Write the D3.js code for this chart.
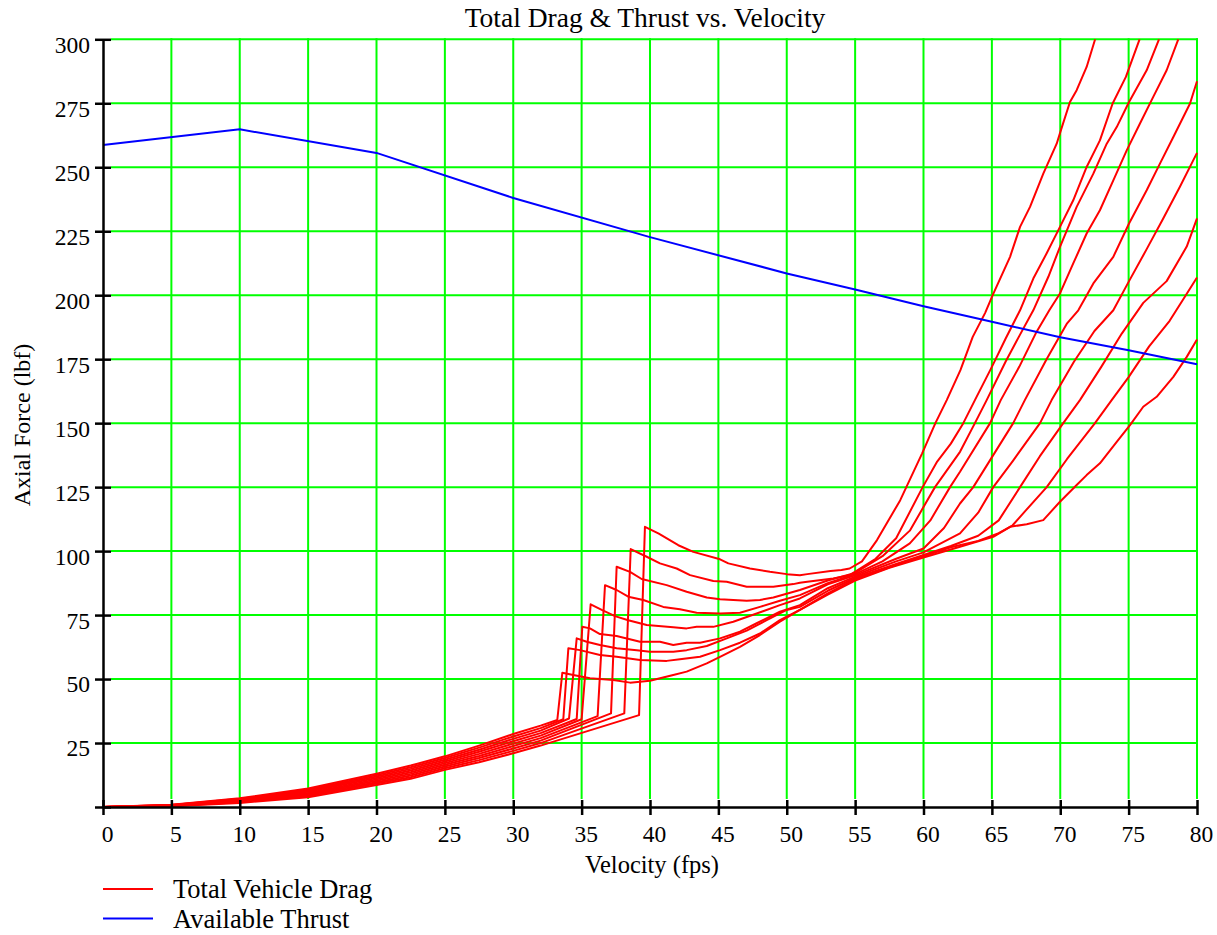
<!DOCTYPE html>
<html>
<head>
<meta charset="utf-8">
<script src="https://cdn.jsdelivr.net/npm/d3@7"></script>
<style>
  body { margin: 0; background: #fff; }
  text { font-family: "Liberation Serif", "Times New Roman", serif; fill: #000; }
</style>
</head>
<body>
<svg id="chart" width="1217" height="935"></svg>
<script>
// Axis ticks
const velocityTicks = [0, 5, 10, 15, 20, 25, 30, 35, 40, 45, 50, 55, 60, 65, 70, 75, 80];
const forceTicks = [0, 25, 50, 75, 100, 125, 150, 175, 200, 225, 250, 275, 300];

// Available thrust (lbf) against velocity (fps)
const thrustVelocity = [0, 10, 20, 30, 40, 50, 55, 60, 65, 70, 75, 80];
const thrustForce = [258.7, 264.8, 255.6, 238, 222.7, 208.5, 202.2, 195.7, 189.6, 183.6, 178.5, 173];

// Total vehicle drag runs, [velocity, force] pairs
const drag0 = [[0,0],[5,0.9],[10,3.4],[15,7.2],[20,13.0],[22.5,16.2],[25,19.8],[27.5,24.0],[30,28.5],[32,31.8],[33.22,34.0],
  [33.59,52.5],[34.39,51.6],[35.61,50.3],[37.32,49.6],[38.54,48.6],[40.0,49.3],[41.7,51.6],[42.68,52.9],[44.15,56.1],[45.12,58.7],
  [46.58,62.6],[48.04,67.2],[49.5,72.4],[50.96,77.0],[53,83],[55,88.5],[57.5,93.5],[60,97.5],[62.67,101.7],[65.1,105.6],
  [66.33,109.5],[67.55,110.5],[68.76,112.1],[69.98,119.3],[71.2,125.8],[71.93,129.7],[72.9,134.3],[74.13,142.7],[75.1,149.2],
  [76.07,156.4],[77.05,160.3],[78.27,168.1],[79.25,175.9],[80,182.7]];
const drag1 = [[0,0],[5,0.8],[10,3.18],[15,6.78],[20,12.45],[22.5,15.55],[25,19.14],[27.5,23.19],[30,27.56],[32,30.83],[33.66,34.3],
  [34.03,62.0],[34.88,61.3],[36.34,59.4],[37.56,58.7],[39.27,57.4],[41.22,57.1],[42.19,57.7],[43.66,58.7],[45.12,61.3],[46.58,64.2],
  [48.04,67.8],[49.5,73.0],[50.96,77.0],[53,83.5],[55,89],[58,94.5],[60,98],[62,101.5],[64,104],[65.5,107],[66.5,110],[67.5,116],
  [69.01,125],[70.5,136],[72.54,150],[73.76,159],[75,168],[76.5,180],[78,190],[78.95,198],[80,206.9]];
const drag2 = [[0,0],[5,0.75],[10,2.95],[15,6.35],[20,11.9],[22.5,14.9],[25,18.48],[27.5,22.38],[30,26.63],[32,29.85],[34.08,34.6],
  [34.64,65.9],[35.37,64.6],[36.34,63.3],[37.56,62.0],[39.03,61.3],[40.0,60.7],[41.7,60.7],[42.68,61.3],[44.15,62.9],[45.61,65.9],
  [47.07,68.9],[48.53,73.0],[50.0,77.0],[50.96,78.2],[53,84.5],[55,89.5],[58,95],[60,98.5],[62,102],[64,106],[65.5,112],[67.06,125],
  [68.5,137],[70.22,150],[71.44,159],[73,172],[74.5,185],[76.07,197],[77.78,205.5],[79.25,219],[80,230]];
const drag3 = [[0,0],[5,0.7],[10,2.73],[15,5.93],[20,11.35],[22.5,14.25],[25,17.81],[27.5,21.56],[30,25.69],[32,28.88],[34.64,34.4],
  [35.05,70.4],[35.61,69.8],[36.34,67.6],[37.56,66.8],[39.27,64.6],[40.73,64.6],[41.7,63.3],[42.68,64.2],[43.66,64.2],[45.12,65.9],
  [46.58,68.5],[47.8,71.8],[49.5,76.3],[50.96,78.9],[53,85.5],[55,90],[58,96],[60,99.5],[62.67,106.9],[64,115],[65.1,125],
  [66.5,135],[68.52,150],[69.37,159],[71,174],[72.5,186],[73.88,194.1],[75.03,205.5],[76.32,218],[77.53,230],[78.76,242.5],[80,255.6]];
const drag4 = [[0,0],[5,0.6],[10,2.5],[15,5.5],[20,10.8],[22.5,13.6],[25,17.15],[27.5,20.75],[30,24.75],[32,27.9],[35.0,34.3],
  [35.66,79.2],[36.47,77.0],[37.44,74.6],[38.41,73.0],[39.76,71.1],[41.7,70.2],[42.68,69.8],[43.41,70.4],[44.63,70.4],[46.09,72.4],
  [47.8,75.6],[49.5,78.9],[50.96,81.5],[53,87],[55,90.5],[58,97],[60,101],[61.5,109],[62.67,118.6],[63.64,125],[66.56,150],
  [67.41,159],[69,175],[70.5,189],[71.32,194.1],[72.42,204.6],[73.88,215],[75.03,228],[76.32,241],[77.29,251.4],[78.27,261.8],
  [79.49,274.9],[80,283.6]];
const drag5 = [[0,0],[5,0.5],[10,2.28],[15,5.08],[20,10.25],[22.5,12.95],[25,16.49],[27.5,19.94],[30,23.81],[32,26.93],[36.17,35.5],
  [36.71,86.7],[37.56,84.8],[38.41,82.2],[39.51,80.9],[40.97,78.2],[42.19,77.3],[43.41,75.9],[45.12,75.6],[46.58,75.9],[48.04,78.2],
  [49.5,80.6],[50.96,82.8],[53,87.5],[55,91],[57,96],[59,103],[60.5,112],[61.94,125],[62.67,131],[64.87,150],[65.65,159],[67,172],
  [68.2,185],[69.2,194.1],[69.98,200.7],[70.95,212.4],[71.93,224.1],[72.9,233.2],[73.88,244.9],[74.86,256.6],[75.83,267.1],
  [76.8,277.5],[77.78,287.9],[78.63,300]];
const drag6 = [[0,0],[5,0.45],[10,2.05],[15,4.65],[20,9.7],[22.5,12.3],[25,15.83],[27.5,19.13],[30,22.88],[32,25.95],[37.15,36.6],
  [37.56,93.9],[38.54,91.9],[39.39,89.1],[41.22,86.7],[42.68,84.1],[44.15,81.9],[45.12,81.2],[47.07,80.6],[48.04,80.9],[49.02,81.9],
  [50.96,84.8],[53,88.5],[55,91.5],[57,98],[59,108],[60.84,125],[62.67,138.8],[63.76,150],[64.62,159],[66,174],[67,184],
  [68.03,194.1],[69.13,207.2],[69.98,218.9],[71.2,234.5],[72.42,247.5],[73.4,259.2],[74.13,265.7],[75.03,275.5],[76.32,287.9],
  [77.22,300]];
const drag7 = [[0,0],[5,0.4],[10,1.83],[15,4.23],[20,9.15],[22.5,11.65],[25,15.16],[27.5,18.31],[30,21.94],[32,24.98],[38.12,36.6],
  [38.59,100.8],[39.76,97.8],[40.73,95.2],[41.95,93.2],[42.93,90.6],[44.63,88.3],[45.61,88.0],[47.07,86.1],[49.02,86.1],[50.48,87.1],
  [50.96,87.6],[51.5,88],[53.4,89.3],[54.6,90.6],[56.5,97],[58,105],[59.94,125],[61,135],[62,142],[62.91,150],[63.76,159],[65,172],
  [66,183],[67.06,194.1],[68.03,206.5],[69.0,216.3],[69.98,226.7],[70.95,237.1],[71.93,250.1],[72.9,260.5],[73.83,274.9],
  [74.8,285.3],[75.8,300]];
const drag8 = [[0,0],[5,0.3],[10,1.6],[15,3.8],[20,8.6],[22.5,11.0],[25,14.5],[27.5,17.5],[30,21.0],[32,24.0],[39.2,35.9],
  [39.63,109.5],[40.61,106.9],[42.07,102.3],[43.17,99.7],[45.12,96.8],[45.73,95.2],[47.31,93.2],[48.77,91.9],[50.0,91.0],
  [50.96,90.6],[51.5,91],[53.2,92.2],[54.0,92.6],[54.6,93.2],[55.5,96],[56.6,104.3],[58.3,119.9],[59.9,138.2],[60.87,150],
  [61.7,159],[62.7,170.7],[63.6,183.7],[64.5,193],[65.1,200.5],[66.33,215],[67.06,226.7],[67.79,234.5],[68.76,247.5],
  [69.74,259.2],[70.05,264.5],[70.71,275.5],[71.2,280.1],[71.93,289.2],[72.55,300]];
const dragRuns = [drag0, drag1, drag2, drag3, drag4, drag5, drag6, drag7, drag8];

const legendLabels = ["Total Vehicle Drag", "Available Thrust"];
const seriesColors = ["#ff0000", "#0000ff"];

const svg = d3.select("#chart");
const x = d3.scaleLinear().domain([0, 80]).range([103, 1197]);
const y = d3.scaleLinear().domain([0, 300]).range([807, 39.3]);

// Green grid
const grid = svg.append("g").attr("stroke", "#00ff00").attr("stroke-width", 2);
grid.selectAll("line.v").data(velocityTicks.filter(d => d > 0)).join("line")
  .attr("class", "v")
  .attr("x1", d => x(d)).attr("x2", d => x(d))
  .attr("y1", y(300) - 1).attr("y2", y(0) - 8);
grid.selectAll("line.h").data(forceTicks.filter(d => d > 0)).join("line")
  .attr("class", "h")
  .attr("x1", x(0) + 8).attr("x2", x(80) + 1)
  .attr("y1", d => y(d)).attr("y2", d => y(d));

// Drag runs
const line = d3.line().x(d => x(d[0])).y(d => y(d[1]));
svg.append("g").selectAll("path").data(dragRuns).join("path")
  .attr("d", line)
  .attr("fill", "none").attr("stroke", seriesColors[0]).attr("stroke-width", 2)
  .attr("stroke-linejoin", "round");

// Thrust
svg.append("path")
  .datum(thrustVelocity.map((v, i) => [v, thrustForce[i]]))
  .attr("d", line)
  .attr("fill", "none").attr("stroke", seriesColors[1]).attr("stroke-width", 2);

// Axes
const xAxis = svg.append("g").attr("transform", `translate(0,${y(0)})`)
  .call(d3.axisBottom(x).tickValues(velocityTicks).tickSizeInner(8).tickSizeOuter(0).tickPadding(10).tickFormat(d3.format("d")));
const yAxis = svg.append("g").attr("transform", `translate(${x(0)},0)`)
  .call(d3.axisLeft(y).tickValues(forceTicks).tickSizeInner(8).tickSizeOuter(0).tickPadding(5)
    .tickFormat(d => d === 0 ? "" : d3.format("d")(d)));

[xAxis, yAxis].forEach(g => {
  g.select(".domain").attr("stroke", "#000").attr("stroke-width", 2.5);
  g.selectAll(".tick line").attr("stroke", "#000").attr("stroke-width", 2.5);
  g.selectAll(".tick text").attr("font-family", "Liberation Serif, Times New Roman, serif").attr("font-size", 23.5);
});
xAxis.selectAll(".tick").append("line").attr("y2", -7).attr("stroke", "#000").attr("stroke-width", 2.5);
xAxis.selectAll(".tick text").attr("dx", 4);
yAxis.selectAll(".tick").append("line").attr("x2", 8).attr("stroke", "#000").attr("stroke-width", 2.5);
yAxis.selectAll(".tick text").attr("dy", "0.55em");

// Titles
svg.append("text").attr("x", 645).attr("y", 27).attr("text-anchor", "middle")
  .attr("font-size", 27.5).text("Total Drag & Thrust vs. Velocity");
svg.append("text").attr("x", 652).attr("y", 873).attr("text-anchor", "middle")
  .attr("font-size", 24.5).text("Velocity (fps)");
svg.append("text").attr("transform", "translate(30,425) rotate(-90)").attr("text-anchor", "middle")
  .attr("font-size", 24).text("Axial Force (lbf)");

// Legend
const legend = svg.append("g").selectAll("g").data(legendLabels).join("g")
  .attr("transform", (d, i) => `translate(103,${889 + i * 29.5})`);
legend.append("line").attr("x1", 0).attr("x2", 50)
  .attr("stroke", (d, i) => seriesColors[i]).attr("stroke-width", 2);
legend.append("text").attr("x", 70).attr("y", 9).attr("font-size", 26.5).text(d => d);
</script>
</body>
</html>
